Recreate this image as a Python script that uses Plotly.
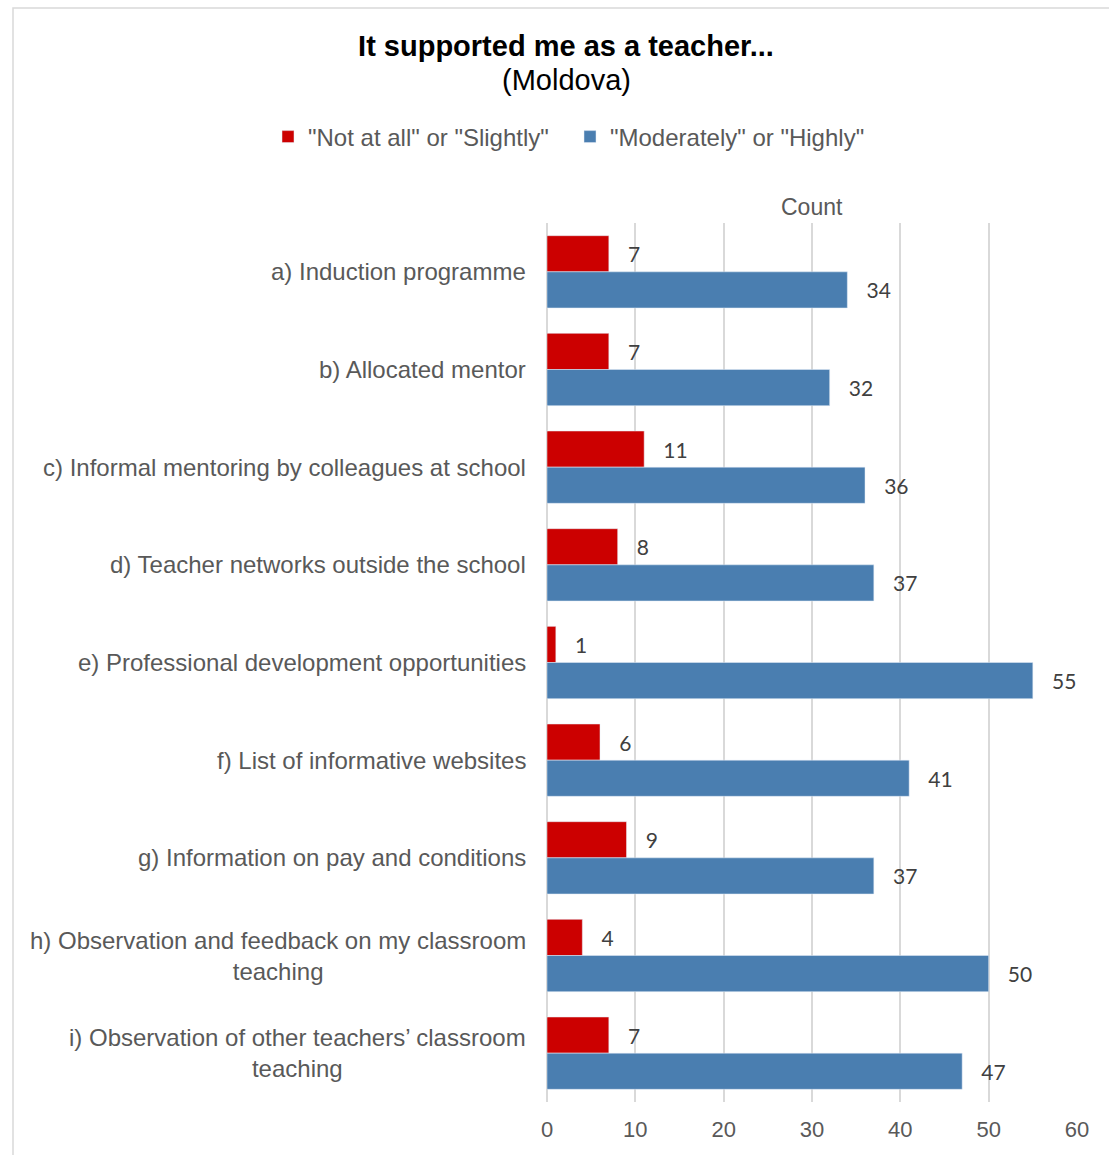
import plotly.graph_objects as go

categories = [
    "a) Induction programme",
    "b) Allocated mentor",
    "c) Informal mentoring by colleagues at school",
    "d) Teacher networks outside the school",
    "e) Professional development opportunities",
    "f) List of informative websites",
    "g) Information on pay and conditions",
    "h) Observation and feedback on my classroom<br>teaching",
    "i) Observation of other teachers\u2019 classroom<br>teaching",
]
not_at_all = [7, 7, 11, 8, 1, 6, 9, 4, 7]
moderately = [34, 32, 36, 37, 55, 41, 37, 50, 47]
x_ticks = [0, 10, 20, 30, 40, 50, 60]

RED = "#CC0000"
BLUE = "#4A7EB0"
GRID = "#D9D9D9"
TXT = "#595959"
AXFONT = "Arial"

W, H = 1109, 1155
L, R, T, B = 547, 32, 223, 53
pw, ph = W - L - R, H - T - B

def px_x(px):
    return (px - L) / pw

def px_y(py):
    return (H - B - py) / ph

fig = go.Figure()
fig.add_trace(go.Bar(
    y=categories, x=not_at_all, orientation="h", name='"Not at all" or "Slightly"',
    marker=dict(color=RED), texttemplate="\u00a0\u00a0\u00a0%{x}", textposition="outside",
    textfont=dict(family="Lato", size=21, color="#404040"),
    cliponaxis=False, constraintext="none",
))
fig.add_trace(go.Bar(
    y=categories, x=moderately, orientation="h", name='"Moderately" or "Highly"',
    marker=dict(color=BLUE), texttemplate="\u00a0\u00a0\u00a0%{x}", textposition="outside",
    textfont=dict(family="Lato", size=21, color="#404040"),
    cliponaxis=False, constraintext="none",
))

annotations = []
for c in categories:
    annotations.append(dict(
        x=px_x(528), xref="paper", y=c, yref="y", xanchor="right", yanchor="middle",
        text=c, showarrow=False, align="center",
        font=dict(family=AXFONT, size=24, color=TXT),
    ))
annotations.append(dict(
    x=0.5, xref="paper", y=px_y(207), yref="paper", xanchor="center", yanchor="middle",
    text="Count", showarrow=False, font=dict(family=AXFONT, size=23, color=TXT),
))
annotations.append(dict(
    x=px_x(566), xref="paper", y=px_y(80), yref="paper", xanchor="center", yanchor="middle",
    text="(Moldova)", showarrow=False, font=dict(family=AXFONT, size=29, color="black"),
))

fig.update_layout(
    width=W, height=H,
    margin=dict(l=L, r=R, t=T, b=B),
    paper_bgcolor="white", plot_bgcolor="white",
    barmode="group", bargap=0.26, bargroupgap=0,
    title=dict(
        text="<b>It supported me as a teacher...</b>",
        x=566 / W, xanchor="center", y=1 - 46 / H, yanchor="middle", yref="container",
        font=dict(family=AXFONT, size=29, color="black"),
    ),
    legend=dict(
        orientation="h", xref="paper", x=px_x(268), xanchor="left",
        yref="paper", y=px_y(137), yanchor="middle",
        font=dict(family=AXFONT, size=24, color=TXT), itemwidth=30,
        entrywidth=257, entrywidthmode="pixels",
        traceorder="normal",
    ),
    xaxis=dict(
        range=[0, 60], tickvals=x_ticks, showgrid=True, gridcolor=GRID, gridwidth=1.5,
        zeroline=True, zerolinecolor=GRID, zerolinewidth=1.5, showline=False,
        tickfont=dict(family=AXFONT, size=22, color=TXT), ticks="",
        ticklabelstandoff=12, fixedrange=True,
    ),
    yaxis=dict(
        categoryorder="array", categoryarray=categories, autorange="reversed",
        showticklabels=False, showgrid=False, zeroline=False, ticks="",
    ),
    annotations=annotations,
    shapes=[dict(
        type="rect", xref="paper", yref="paper",
        x0=px_x(13), x1=px_x(1140), y0=px_y(1180), y1=px_y(8),
        line=dict(color=GRID, width=1.5), fillcolor="rgba(0,0,0,0)", layer="below",
    )],
)

fig.write_html("out.html")
